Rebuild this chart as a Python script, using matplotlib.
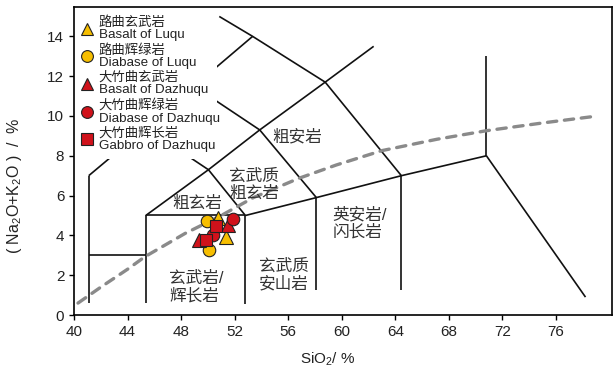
import matplotlib
matplotlib.use("Agg")
import matplotlib.pyplot as plt
from matplotlib.patches import Rectangle

plt.rcParams['font.family'] = ['Liberation Sans', 'Noto Sans CJK SC']
plt.rcParams['mathtext.fontset'] = 'custom'
plt.rcParams['mathtext.rm'] = 'Liberation Sans'
plt.rcParams['mathtext.it'] = 'Liberation Sans'

# TAS field boundaries (SiO2, Na2O+K2O), as drawn
boundaries = [
    [(41.1, 0.6), (41.1, 7.0)],
    [(41.1, 3.0), (45.36, 3.0)],
    [(45.36, 0.6), (45.36, 5.0)],
    [(45.36, 5.0), (52.8, 5.0)],
    [(52.8, 0.55), (52.8, 5.0)],
    [(52.8, 5.0), (58.1, 5.9), (64.45, 7.0), (70.8, 8.0)],
    [(58.1, 1.25), (58.1, 5.9)],
    [(64.45, 1.25), (64.45, 7.0)],
    [(70.8, 8.0), (70.8, 13.0)],
    [(70.8, 8.0), (78.2, 0.9)],
    [(45.36, 5.0), (50.04, 7.3), (52.8, 5.0)],
    [(50.04, 7.3), (53.87, 9.3), (58.76, 11.7), (62.38, 13.5)],
    [(53.87, 9.3), (58.1, 5.9)],
    [(50.85, 15.0), (53.34, 14.0), (58.76, 11.7), (64.45, 7.0)],
    [(41.1, 7.0), (45.36, 9.4), (48.97, 11.5), (53.34, 14.0)],
    [(50.04, 7.3), (45.36, 9.4)],
    [(48.97, 11.5), (53.87, 9.3)],
]

# alkaline / subalkaline divide
div_x = [40.3, 42.0, 44.0, 45.3, 48.3, 51.0, 53.4, 56.8, 59.6, 63.0, 67.1, 70.8, 75.0, 79.1]
div_y = [0.6, 1.4, 2.3, 2.93, 4.1, 5.0, 5.9, 6.87, 7.54, 8.26, 8.83, 9.26, 9.65, 10.0]

# field names
field_names = ["粗安岩", "玄武质\n粗玄岩", "粗玄岩", "玄武岩/\n辉长岩", "玄武质\n安山岩", "英安岩/\n闪长岩"]
field_x = [56.67, 53.45, 49.19, 47.1, 55.69, 59.3]
field_y = [8.95, 6.55, 5.63, 1.42, 2.02, 4.62]
field_ha = ["center", "center", "center", "left", "center", "left"]

# samples
basalt_luqu_x = [50.78, 51.33]
basalt_luqu_y = [4.86, 3.90]
diabase_luqu_x = [49.96, 50.12]
diabase_luqu_y = [4.70, 3.27]
basalt_dzq_x = [51.53, 49.35]
basalt_dzq_y = [4.52, 3.77]
diabase_dzq_x = [51.90, 50.40]
diabase_dzq_y = [4.82, 4.00]
gabbro_dzq_x = [50.63, 49.88]
gabbro_dzq_y = [4.47, 3.77]

yellow = '#f6be00'
red = '#d0121b'

fig = plt.figure(figsize=(6.14, 3.70), dpi=100)
ax = fig.add_axes([0.1205, 0.1486, 0.9972 - 0.1205, 0.9824 - 0.1486])

for seg in boundaries:
    xs = [p[0] for p in seg]
    ys = [p[1] for p in seg]
    ax.plot(xs, ys, color='#111111', lw=1.2, zorder=2, solid_capstyle='butt')

ax.plot(div_x, div_y, color='#8a8a8a', lw=2.4, dashes=(2.8, 2.3),
        dash_capstyle='round', zorder=2.1)

# blank area behind the legend
ax.add_patch(Rectangle((40, 7.83), 10.66, 8.0, facecolor='white',
                       edgecolor='none', zorder=2.2))

for name, x, y, ha in zip(field_names, field_x, field_y, field_ha):
    ax.text(x, y, name, ha=ha, va='center', fontsize=12, color='#333333',
            linespacing=1.15, zorder=2.3)

h1, = ax.plot(diabase_luqu_x, diabase_luqu_y, 'o', ms=9, mfc=yellow, mec='#222222', mew=0.8, zorder=4)
h2, = ax.plot(basalt_luqu_x, basalt_luqu_y, '^', ms=10, mfc=yellow, mec='#222222', mew=0.8, zorder=4)
h3, = ax.plot(basalt_dzq_x, basalt_dzq_y, '^', ms=10, mfc=red, mec='#222222', mew=0.8, zorder=4)
h4, = ax.plot(diabase_dzq_x, diabase_dzq_y, 'o', ms=9, mfc=red, mec='#222222', mew=0.8, zorder=4)
h5, = ax.plot(gabbro_dzq_x, gabbro_dzq_y, 's', ms=9, mfc=red, mec='#222222', mew=0.8, zorder=4)

leg = ax.legend([h2, h1, h3, h4, h5],
                ["路曲玄武岩\nBasalt of Luqu",
                 "路曲辉绿岩\nDiabase of Luqu",
                 "大竹曲玄武岩\nBasalt of Dazhuqu",
                 "大竹曲辉绿岩\nDiabase of Dazhuqu",
                 "大竹曲辉长岩\nGabbro of Dazhuqu"],
                loc='upper left', bbox_to_anchor=(0, 0.99), frameon=False,
                fontsize=9.6, labelspacing=0.2, handlelength=0.9,
                handletextpad=0.45, borderaxespad=0.25, borderpad=0.25)
leg.set_zorder(5)
for t in leg.get_texts():
    t.set_linespacing(1.05)
    t.set_color('#222222')
for lh in leg.legend_handles:
    lh.set_markersize(8.5)

ax.set_xlim(40, 80.2)
ax.set_ylim(0, 15.5)
ax.set_xticks(range(40, 77, 4))
ax.set_yticks(range(0, 15, 2))
ax.tick_params(direction='out', length=3.5, width=1, labelsize=11, labelcolor='#222222')
for sp in ax.spines.values():
    sp.set_linewidth(1.2)

ax.set_xlabel("SiO$_2$/ %", fontsize=11, color='#222222')
ax.xaxis.set_label_coords(0.471, -0.115)
ax.set_ylabel("( Na$_2$O+K$_2$O )  /  %", fontsize=11.5, color='#222222')
ax.yaxis.set_label_coords(-0.093, 0.42)

fig.savefig("out.png", dpi=100)
